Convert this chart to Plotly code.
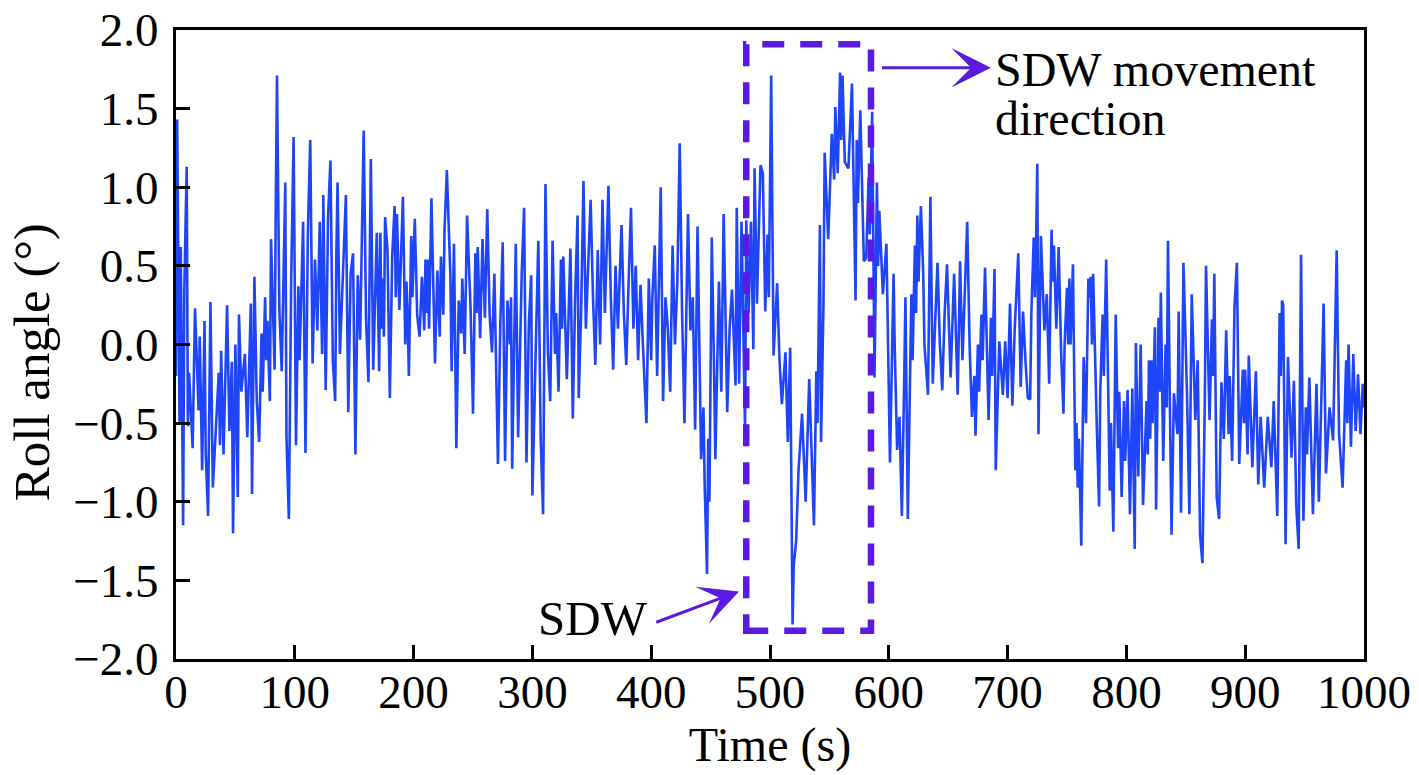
import plotly.graph_objects as go

# roll angle readings, split by time span (s, deg)
t_a = [0, 1, 3, 4, 6, 7, 9, 10, 11, 14, 16, 19, 20, 22, 24, 25, 27, 29, 31, 34,
       36, 37, 38, 40, 43, 45, 47, 48, 50, 52, 53, 55, 58, 60, 63, 64, 66, 68, 70, 72,
       73, 75, 76, 77, 79, 80, 83, 84, 85, 87, 89, 92, 93, 95, 97, 99, 101, 103, 104, 105,
       107, 109, 111, 113, 115, 117, 119, 121, 123, 124, 126, 128, 130, 132, 134, 135, 136, 138, 141, 143,
       145, 147, 149, 151, 153, 155, 158, 160, 162, 164, 166, 169]
roll_a = [-0.20, 1.43, -0.50, 0.62, -1.15, 0.35, 1.13, -0.52, -0.18, -0.66, 0.23, -0.42, 0.05, -0.80, 0.15, -0.69, -1.09, 0.27, -0.91, -0.44,
          -0.18, -0.64, -0.04, -0.70, 0.25, -0.55, -0.11, -1.20, 0.00, -0.97, 0.19, -0.30, -0.06, -0.59, 0.26, -0.95, 0.43, -0.36, -0.62, 0.07,
          -0.30, 0.30, -0.10, 0.15, -0.36, 0.67, -0.16, 0.90, 1.71, 0.22, -0.17, 1.03, -0.59, -1.11, 0.43, 1.32, -0.64, 0.37, -0.10, 0.19,
          0.78, -0.69, 0.71, 1.30, -0.12, 0.54, 0.09, 0.78, -0.06, 0.95, -0.29, 0.81, 1.17, -0.10, -0.36, 0.58, 1.03, -0.06, 0.50, 0.95,
          -0.43, 0.45, 0.58, -0.70, 0.44, 0.03, 1.36, 0.15, -0.24, 1.18, -0.16, 0.71]

t_b = [171, 172, 173, 174, 175, 176, 178, 180, 182, 184, 185, 186, 188, 191, 193, 194, 195, 196, 198, 199,
       201, 203, 205, 207, 209, 210, 211, 212, 213, 215, 218, 220, 222, 223, 225, 226, 228, 231, 232, 234,
       236, 238, 240, 241, 243, 245, 248, 250, 252, 253, 254, 256, 258, 260, 262, 264, 266, 268, 271, 273,
       275, 277, 279, 281, 282, 283, 286, 288, 291, 293, 295, 297, 299, 300, 303, 305, 307, 309, 311, 313,
       315, 317, 319, 320, 322, 324, 325, 326, 329, 332, 334, 336, 338, 339]
roll_b = [-0.17, 0.71, 0.10, 0.42, 0.05, 0.81, 0.60, -0.34, 0.56, 0.88, 0.30, 0.83, 0.22, 0.94, 0.00, 0.40, 0.17, -0.20, 0.69, 0.30,
          0.80, 0.19, 0.05, 0.43, 0.09, 0.54, 0.20, 0.54, 0.10, 0.93, -0.12, 0.47, 0.05, 0.56, 0.19, 0.72, 1.11, 0.43, -0.17, 0.64,
          -0.66, 0.28, 0.07, 0.42, -0.06, 0.82, 0.22, -0.44, 0.58, 0.20, 0.62, 0.04, 0.67, 0.17, 0.86, 0.19, -0.05, 0.45, -0.76, 0.13,
          0.65, -0.74, 0.28, 0.00, 0.30, -0.79, 0.64, -0.59, 0.45, 0.87, -0.75, 0.13, 0.44, -0.96, 0.03, 0.66, -0.61, -1.08, 1.02, -0.04,
          -0.36, 0.66, -0.06, 0.20, -0.30, 0.54, 0.10, 0.56, -0.22, 0.61, -0.47, 0.30, 0.82, -0.34]

t_c = [341, 343, 345, 347, 349, 351, 353, 355, 357, 359, 361, 364, 366, 368, 370, 372, 375, 377, 379, 381,
       383, 385, 387, 389, 391, 393, 396, 398, 400, 401, 403, 405, 406, 408, 410, 412, 414, 416, 418, 420,
       422, 424, 426, 428, 431, 433, 435, 437, 439, 441, 442, 444, 445, 447, 448, 449, 451, 453, 454, 457,
       459, 461, 464, 466, 468, 471, 472, 474, 476, 479]
roll_c = [0.20, 1.04, 0.10, 0.50, 0.92, 0.30, -0.13, 0.60, 0.00, 0.92, 0.20, 1.01, 0.30, -0.16, 0.50, 0.10, 0.76, 0.20, -0.13, 0.40,
          0.87, 0.10, 0.50, -0.10, 0.38, 0.00, -0.50, 0.42, -0.10, 0.30, 0.63, -0.20, 0.30, 1.00, -0.36, 0.30, 0.10, -0.30, 0.63, 0.00,
          0.40, 1.28, 0.20, -0.50, 0.83, 0.09, 0.30, -0.54, 0.75, -0.20, -0.73, -0.40, -0.89, -1.46, -0.60, -1.00, 0.68, -0.20, -0.73, 0.40,
          -0.30, 0.83, -0.43, 0.10, 0.35, -0.26, 0.87, -0.25, 0.78, -0.54]

t_d = [480, 482, 484, 486, 487, 489, 492, 494, 496, 498, 499, 501, 503, 506, 508, 510, 513, 515, 517, 519,
       520, 522, 524, 527, 530, 533, 535, 537, 539, 540, 542, 543, 545, 546, 549, 552, 554, 555, 557, 559,
       560, 561, 563, 566, 569, 572, 573, 574, 576, 579, 581, 583, 584, 586, 588, 590, 591, 592, 595, 598,
       601, 604, 605, 607]
roll_d = [0.79, 0.20, 0.78, -0.03, 1.12, 0.26, 1.14, 1.09, 0.21, 0.70, 0.30, 1.71, -0.07, 0.39, -0.10, -0.38, -0.05, -0.62, -0.02, -1.78,
          -1.40, -1.25, -0.80, -0.44, -1.00, -0.22, -0.70, -1.15, -0.17, -0.50, 0.76, -0.62, 0.26, 1.22, 0.67, 1.34, 1.05, 1.51, 1.09, 1.73,
          1.30, 1.71, 1.16, 1.12, 1.66, 0.28, 1.30, 0.90, 1.49, 0.53, 0.55, 1.06, 0.70, 1.48, -0.21, 1.03, 0.50, 0.85, 0.32, 0.64,
          -0.75, 0.45, -0.02, -0.67]

t_e = [609, 611, 613, 614, 616, 619, 620, 622, 623, 624, 625, 627, 629, 630, 633, 635, 637, 640, 641, 643,
       645, 647, 649, 652, 655, 658, 660, 662, 664, 666, 668, 670, 672, 673, 675, 676, 678, 679, 681, 684,
       686, 687, 689, 690, 693, 696, 698, 700, 702, 704, 706, 709, 711, 713, 715, 717, 719, 720, 722, 723,
       724, 725, 726, 728, 731, 733, 735, 737, 738, 739, 741, 743, 745, 747, 748, 750, 751, 752, 753, 755,
       757, 758, 759, 760, 762, 764, 766, 768, 769, 770, 771, 772, 775, 777, 778, 780, 781, 783, 786, 787,
       789, 791, 793, 794, 796, 798]
roll_e = [-0.46, -1.09, -0.21, 0.30, -1.11, 0.32, -0.10, 0.63, 0.20, 0.82, 0.40, 0.88, 0.45, 0.00, -0.32, 0.94, -0.25, 0.30, 0.52, 0.00,
          -0.29, 0.20, 0.51, -0.21, 0.45, -0.32, 0.53, -0.10, 0.30, 0.78, 0.00, -0.46, -0.20, -0.58, 0.00, -0.30, 0.19, -0.10, 0.49, -0.48,
          0.17, -0.20, 0.48, -0.80, 0.02, -0.32, 0.02, -0.34, 0.26, -0.39, 0.10, 0.58, -0.27, 0.21, -0.10, -0.34, -0.35, 0.20, 0.68, 0.30,
          0.66, 1.15, -0.57, 0.69, 0.09, 0.32, -0.25, 0.73, 0.40, 0.63, 0.10, 0.62, -0.04, -0.44, 0.00, 0.36, 0.00, 0.42, 0.00, 0.51,
          -0.80, -0.50, -0.91, -0.60, -1.28, -0.08, -0.50, 0.42, 0.30, 0.43, 0.00, 0.45, -0.50, -1.03, -0.30, 0.19, -0.20, 0.54, -0.93, -0.50,
          -1.19, 0.19, -0.66, -0.30, -0.97, -0.36]

t_f = [799, 801, 803, 805, 807, 808, 810, 812, 814, 817, 818, 819, 820, 821, 822, 824, 825, 827, 828, 829,
       831, 833, 834, 835, 837, 838, 840, 843, 844, 846, 848, 851, 853, 855, 858, 860, 862, 864, 866, 867,
       870, 872, 873, 874, 876, 878, 880, 882, 884, 886, 887, 889, 891, 893, 895, 898, 899, 900, 902, 903,
       906, 909, 911, 913, 916, 919, 922, 924, 927, 929, 930, 931, 932, 934, 936, 939, 941, 943, 945, 947,
       949, 951, 952, 954, 957, 960, 962, 964, 966, 968, 971, 974, 976, 977, 979, 982, 985, 986, 987, 989,
       991, 993, 995, 997, 999, 1000]
roll_f = [-0.74, -0.29, -1.08, -0.28, -1.30, 0.01, -0.84, 0.00, -1.02, -0.36, -0.70, -0.10, -0.60, -0.10, -0.50, 0.11, -1.05, 0.17, -0.30, 0.33,
          -0.74, 0.00, -0.40, 0.66, -0.63, -1.21, -0.31, -0.57, 0.21, -1.07, 0.52, -0.31, -1.08, 0.32, -0.48, -0.10, -1.21, -1.39, -0.36, 0.50,
          -0.48, 0.16, -0.20, 0.45, -0.97, -1.11, -0.24, -0.60, 0.09, -0.57, -0.20, -0.74, 0.24, 0.52, -0.76, -0.16, -0.50, -0.16, -0.70, -0.07,
          -0.78, -0.17, -0.89, -0.46, -0.91, -0.46, -0.78, -0.36, -1.09, 0.20, -0.20, 0.28, 0.25, -1.27, -0.08, -0.72, -0.23, -1.03, -1.30, 0.57,
          -1.12, -0.40, -0.70, -0.21, -1.08, -0.25, -1.00, -0.31, 0.26, -0.82, -0.40, -0.61, 0.30, 0.60, -0.57, -0.91, -0.10, -0.50, 0.00, -0.65,
          -0.06, -0.55, -0.19, -0.57, -0.25, -0.40]

time_s = t_a + t_b + t_c + t_d + t_e + t_f
roll_deg = roll_a + roll_b + roll_c + roll_d + roll_e + roll_f

x_ticks = list(range(0, 1001, 100))
y_ticks = [-2.0, -1.5, -1.0, -0.5, 0.0, 0.5, 1.0, 1.5, 2.0]

# SDW window drawn as dashed box
sdw_t = [480, 585]
sdw_roll = [-1.82, 1.91]

FONT = "Liberation Serif"
PURPLE = "#5c1ae0"

fig = go.Figure()
fig.add_trace(go.Scatter(x=time_s, y=roll_deg, mode='lines',
                         line=dict(color='#1f45fa', width=2.6), showlegend=False))

fig.add_shape(type='rect', x0=sdw_t[0], x1=sdw_t[1], y0=sdw_roll[0], y1=sdw_roll[1],
              line=dict(color=PURPLE, width=6.5, dash='22px,16px'))

# arrow -> movement direction text
fig.add_annotation(x=686, y=1.76, ax=593, ay=1.76, axref='x', ayref='y', xref='x', yref='y',
                   text='', showarrow=True, arrowhead=3, arrowsize=2.2, arrowwidth=3, arrowcolor=PURPLE)
fig.add_annotation(x=688, y=1.75, text='SDW movement', showarrow=False, xanchor='left', yanchor='middle',
                   font=dict(family=FONT, size=48, color='black'))
fig.add_annotation(x=688, y=1.44, text='direction', showarrow=False, xanchor='left', yanchor='middle',
                   font=dict(family=FONT, size=48, color='black'))
# arrow SDW label -> box
fig.add_annotation(x=474, y=-1.57, ax=403, ay=-1.77, axref='x', ayref='y', xref='x', yref='y',
                   text='', showarrow=True, arrowhead=3, arrowsize=2.2, arrowwidth=3, arrowcolor=PURPLE)
fig.add_annotation(x=351, y=-1.74, text='SDW', showarrow=False, xanchor='center', yanchor='middle',
                   font=dict(family=FONT, size=49, color='black'))

# y axis title, sits a little below the middle of the axis
fig.add_annotation(xref='paper', yref='paper', x=-0.121, y=0.472, text='Roll angle (°)', textangle=-90,
                   showarrow=False, xanchor='center', yanchor='middle',
                   font=dict(family=FONT, size=51, color='black'))

axis_common = dict(showline=True, linewidth=3, linecolor='black', mirror=True,
                   ticks='inside', ticklen=14, tickwidth=3, tickcolor='black',
                   showgrid=False, zeroline=False, automargin=False, ticklabeloverflow='allow',
                   tickfont=dict(family=FONT, size=47, color='black'))

fig.update_layout(
    width=1419, height=775,
    margin=dict(l=176, r=55, t=30, b=116),
    plot_bgcolor='white', paper_bgcolor='white',
    xaxis=dict(range=[0, 1000], tickvals=x_ticks, ticklabelstandoff=-10,
               title=dict(text='Time (s)', font=dict(family=FONT, size=48, color='black'), standoff=10),
               **axis_common),
    yaxis=dict(range=[-2, 2], tickvals=y_ticks, tickformat='.1f', ticklabelstandoff=5,
               **axis_common),
)

# drop the default 8px page margin so the figure fills the window
fig.write_html("out.html", config={'displayModeBar': False},
               post_script="document.body.style.margin = '0';")
